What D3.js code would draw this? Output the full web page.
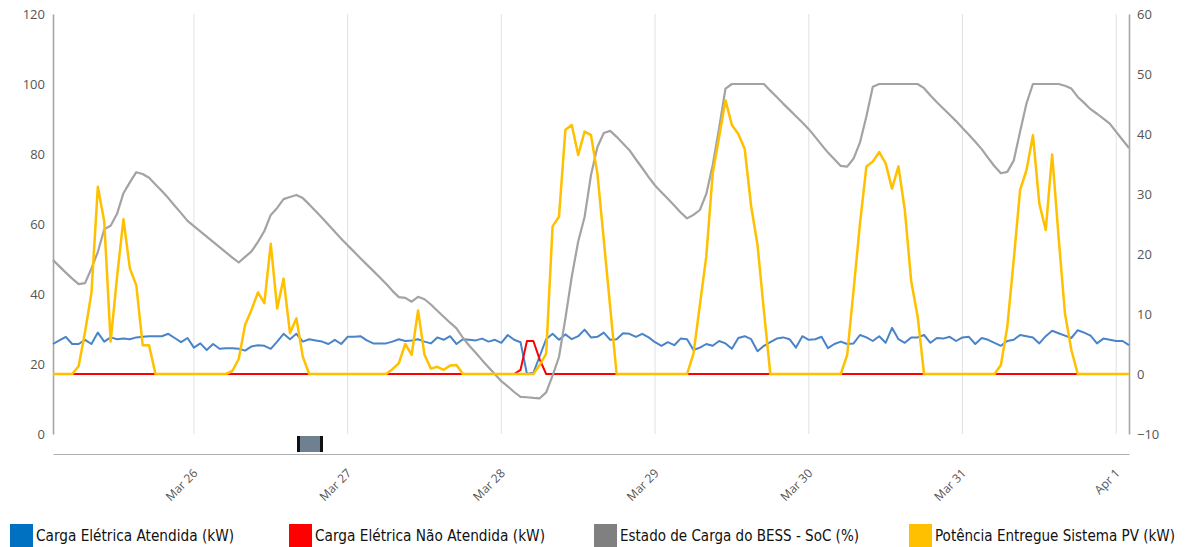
<!DOCTYPE html>
<html>
<head>
<meta charset="utf-8">
<script src="https://cdn.jsdelivr.net/npm/d3@7"></script>
<style>
  body { margin: 0; background: #fff; }
  svg text { font-family: "Open Sans", "Liberation Sans", sans-serif; }
  .axis text { fill: #555; font-size: 13px; }
  .legend text { font-family: "Liberation Sans Narrow", "DejaVu Sans Condensed", Roboto, sans-serif; font-size: 15.5px; fill: #111; }
</style>
</head>
<body>
<div id="chart"></div>
<script>
// hourly samples, Mar 25 02:00 -> Apr 1 02:00
const startTime = new Date(Date.UTC(2024, 2, 25, 2));
const endTime = new Date(Date.UTC(2024, 3, 1, 2));

// Carga Elétrica Atendida (kW) - right axis
const loadServed = [
  5.0, 5.6, 6.2, 5.0, 5.0, 5.7, 5.0, 6.9, 5.4, 6.1, 5.8, 5.9, 5.8, 6.1, 6.2, 6.3, 6.3, 6.3, 6.7, 6.0, 5.3, 6.0,
  4.4, 5.1, 4.0, 5.0, 4.2, 4.3, 4.3, 4.2, 3.9, 4.6, 4.8, 4.7, 4.2, 5.4, 6.7, 5.8, 6.7, 5.4, 5.8, 5.6, 5.4, 5.0, 5.7, 5.0,
  6.2, 6.2, 6.3, 5.6, 5.1, 5.1, 5.1, 5.4, 5.8, 5.5, 5.6, 5.8, 5.4, 5.1, 6.1, 5.7, 6.3, 5.0, 5.8, 5.7, 5.6, 5.9, 5.4, 5.7,
  5.2, 6.5, 5.7, 5.3, 0.0, 0.2, 3.0, 5.8, 6.7, 5.7, 6.6, 5.8, 6.3, 7.4, 6.1, 6.2, 6.9, 5.7, 5.8, 6.8, 6.7, 6.2, 6.7, 6.1,
  5.3, 4.7, 5.3, 4.8, 5.9, 5.8, 4.0, 4.4, 5.0, 4.7, 5.5, 5.1, 4.2, 6.0, 6.3, 5.8, 3.8, 4.7, 5.3, 5.9, 6.1, 5.8, 4.4, 6.3,
  5.7, 5.8, 6.2, 4.3, 5.0, 5.4, 5.0, 5.1, 6.5, 6.1, 5.5, 6.3, 5.2, 7.7, 5.8, 5.2, 6.1, 6.1, 6.5, 5.2, 6.0, 5.9, 6.2, 5.5,
  6.1, 6.2, 5.0, 6.0, 5.7, 5.2, 4.7, 5.5, 5.7, 6.5, 6.3, 6.1, 5.1, 6.3, 7.2, 6.8, 6.4, 6.0, 7.3, 6.9, 6.4, 5.1, 5.9, 5.7,
  5.5, 5.5, 4.8
];

// Carga Elétrica Não Atendida (kW) - right axis
const loadNotServed = [
  0, 0, 0, 0, 0, 0, 0, 0, 0, 0, 0, 0, 0, 0, 0, 0, 0, 0, 0, 0, 0, 0,
  0, 0, 0, 0, 0, 0, 0, 0, 0, 0, 0, 0, 0, 0, 0, 0, 0, 0, 0, 0, 0, 0, 0, 0,
  0, 0, 0, 0, 0, 0, 0, 0, 0, 0, 0, 0, 0, 0, 0, 0, 0, 0, 0, 0, 0, 0, 0, 0,
  0, 0, 0, 0.7, 5.5, 5.5, 2.4, 0, 0, 0, 0, 0, 0, 0, 0, 0, 0, 0, 0, 0, 0, 0, 0, 0,
  0, 0, 0, 0, 0, 0, 0, 0, 0, 0, 0, 0, 0, 0, 0, 0, 0, 0, 0, 0, 0, 0, 0, 0,
  0, 0, 0, 0, 0, 0, 0, 0, 0, 0, 0, 0, 0, 0, 0, 0, 0, 0, 0, 0, 0, 0, 0, 0,
  0, 0, 0, 0, 0, 0, 0, 0, 0, 0, 0, 0, 0, 0, 0, 0, 0, 0, 0, 0, 0, 0, 0, 0,
  0, 0, 0
];

// Estado de Carga do BESS - SoC (%) - left axis
const soc = [
  49.7, 47.9, 46.1, 44.4, 42.8, 43.1, 47.3, 52.0, 58.5, 59.5, 62.9, 68.8, 71.9, 74.8, 74.3, 73.2, 71.3, 69.4, 67.4, 65.2, 63.1, 60.9,
  59.4, 57.9, 56.4, 54.9, 53.4, 51.9, 50.4, 49.0, 50.6, 52.2, 54.9, 58.0, 62.6, 64.6, 67.1, 67.7, 68.3, 67.4, 65.6, 63.7, 61.8, 59.8, 57.8, 55.8,
  53.9, 52.1, 50.2, 48.4, 46.6, 44.8, 42.9, 40.9, 39.1, 38.9, 37.8, 39.2, 38.5, 37.0, 35.2, 33.5, 31.8, 30.2, 27.5, 25.2, 23.2, 21.1, 19.1, 17.1,
  15.1, 13.6, 12.0, 10.6, 10.5, 10.3, 10.2, 11.9, 16.7, 22.0, 33.0, 45.0, 55.0, 62.0, 74.0, 82.0, 86.0, 86.6, 84.9, 83.0, 81.1, 78.5, 76.0, 73.4,
  71.0, 69.1, 67.2, 65.3, 63.3, 61.6, 62.6, 64.0, 68.6, 76.8, 87.4, 98.7, 100, 100, 100, 100, 100, 100, 98.1, 96.3, 94.4, 92.6, 90.8, 89.0,
  87.1, 84.9, 82.6, 80.4, 78.5, 76.6, 76.4, 78.7, 83.3, 90.8, 99.2, 100, 100, 100, 100, 100, 100, 100, 98.8, 96.7, 94.8, 93.0, 91.2, 89.4,
  87.4, 85.5, 83.5, 81.4, 78.9, 76.5, 74.5, 74.9, 78.1, 86.4, 94.5, 100, 100, 100, 100, 100, 99.5, 98.7, 96.3, 94.6, 92.8, 91.5, 90.1, 88.7,
  86.3, 84.0, 81.7
];

// Potência Entregue Sistema PV (kW) - right axis
const pvPower = [
  0, 0, 0, 0, 1.3, 7.0, 13.5, 31.2, 25.4, 5.4, 16.2, 25.8, 17.6, 14.8, 4.8, 4.8, 0, 0, 0, 0, 0, 0,
  0, 0, 0, 0, 0, 0, 0.5, 2.5, 8.2, 10.7, 13.6, 11.8, 21.7, 10.9, 15.9, 6.8, 9.3, 2.9, 0, 0, 0, 0, 0, 0,
  0, 0, 0, 0, 0, 0, 0, 0.8, 1.8, 5.0, 3.2, 10.6, 3.2, 0.9, 1.2, 0.7, 1.4, 1.5, 0, 0, 0, 0, 0, 0,
  0, 0, 0, 0, 0, 0, 1.5, 3.4, 24.6, 26.2, 40.7, 41.5, 36.5, 40.4, 39.8, 33.4, 22.3, 11.1, 0, 0, 0, 0, 0, 0,
  0, 0, 0, 0, 0, 0, 3.4, 11.5, 19.6, 33.4, 39.5, 45.6, 41.5, 40.0, 37.5, 28.0, 21.5, 10.5, 0, 0, 0, 0, 0, 0,
  0, 0, 0, 0, 0, 0, 3.2, 14.0, 25.1, 34.6, 35.4, 37.0, 35.1, 30.9, 34.6, 27.3, 15.4, 9.6, 0, 0, 0, 0, 0, 0,
  0, 0, 0, 0, 0, 0, 1.5, 7.9, 19.0, 30.7, 34.0, 39.8, 28.4, 24.0, 36.6, 22.9, 10.1, 4.0, 0, 0, 0, 0, 0, 0,
  0, 0, 0
];

const leftTicks = [0, 20, 40, 60, 80, 100, 120];
const rightTicks = [-10, 0, 10, 20, 30, 40, 50, 60];
const legendLabels = [
  "Carga Elétrica Atendida (kW)",
  "Carga Elétrica Não Atendida (kW)",
  "Estado de Carga do BESS - SoC (%)",
  "Potência Entregue Sistema PV (kW)"
];

const times = d3.utcHour.range(startTime, d3.utcHour.offset(endTime, 1));
const dayTicks = d3.utcDay.range(new Date(Date.UTC(2024, 2, 26)), new Date(Date.UTC(2024, 3, 2)));

const width = 1187, height = 547;
const plot = {left: 53, right: 1129, top: 14, bottom: 434};

const svg = d3.select("#chart").append("svg")
  .attr("width", width)
  .attr("height", height);

// scales
const x = d3.scaleUtc().domain([startTime, endTime]).range([plot.left, plot.right]);
const yLeft = d3.scaleLinear().domain([0, 120]).range([plot.bottom, plot.top]);
const yRight = d3.scaleLinear().domain([-10, 60]).range([plot.bottom, plot.top]);

// vertical day gridlines
svg.append("g")
  .selectAll("line")
  .data(dayTicks)
  .join("line")
    .attr("x1", d => x(d)).attr("x2", d => x(d))
    .attr("y1", plot.top).attr("y2", plot.bottom)
    .attr("stroke", "#e2e2e2")
    .attr("stroke-width", 1);

// left axis (SoC)
const leftAxis = svg.append("g")
  .attr("class", "axis")
  .attr("transform", `translate(${plot.left},0)`)
  .call(d3.axisLeft(yLeft).tickValues(leftTicks).tickSize(0).tickPadding(8));

// right axis (kW)
const rightAxis = svg.append("g")
  .attr("class", "axis")
  .attr("transform", `translate(${plot.right},0)`)
  .call(d3.axisRight(yRight).tickValues(rightTicks).tickSize(0).tickPadding(8));

[leftAxis, rightAxis].forEach(a => a.select(".domain").attr("stroke", "#a6a6a6").attr("stroke-width", 1.6));

// time axis
const xAxis = svg.append("g")
  .attr("class", "axis")
  .attr("transform", "translate(0,454)")
  .call(d3.axisBottom(x).tickValues(dayTicks).tickSize(0).tickFormat(d3.utcFormat("%b %-d")));

xAxis.select(".domain").attr("stroke", "#b0b0b0").attr("stroke-width", 1.2);
xAxis.selectAll("text")
  .attr("x", 0).attr("y", 0).attr("dy", 0)
  .attr("text-anchor", "end")
  .attr("transform", "translate(4,20) rotate(-45)")
  .style("font-size", "12px");

// small range handle under the plot
const handle = svg.append("g").attr("transform", "translate(297,436)");
handle.append("rect").attr("width", 26).attr("height", 16).attr("fill", "#6f8090");
handle.append("rect").attr("width", 3).attr("height", 16).attr("fill", "#111");
handle.append("rect").attr("x", 23).attr("width", 3).attr("height", 16).attr("fill", "#111");

// lines
const series = [
  {values: loadServed, y: yRight, color: "#4a84c8", width: 2},
  {values: loadNotServed, y: yRight, color: "#ff0000", width: 2},
  {values: soc, y: yLeft, color: "#a3a3a3", width: 2.2},
  {values: pvPower, y: yRight, color: "#ffc000", width: 2.5}
];

series.forEach(s => {
  const line = d3.line()
    .x((d, i) => x(times[i]))
    .y(d => s.y(d));
  svg.append("path")
    .datum(s.values)
    .attr("fill", "none")
    .attr("stroke", s.color)
    .attr("stroke-width", s.width)
    .attr("stroke-linejoin", "round")
    .attr("d", line);
});

// legend
const legendColors = ["#0070c0", "#ff0000", "#808080", "#ffc000"];
const legendX = [10, 289, 594, 909];
const legendTextWidth = [198, 230, 239, 240];
const legend = svg.append("g").attr("class", "legend");
legendLabels.forEach((label, i) => {
  const g = legend.append("g").attr("transform", `translate(${legendX[i]},524)`);
  g.append("rect").attr("width", 23).attr("height", 23).attr("fill", legendColors[i]);
  g.append("text")
    .attr("x", 26).attr("y", 17)
    .attr("textLength", legendTextWidth[i])
    .attr("lengthAdjust", "spacingAndGlyphs")
    .text(label);
});
</script>
</body>
</html>
